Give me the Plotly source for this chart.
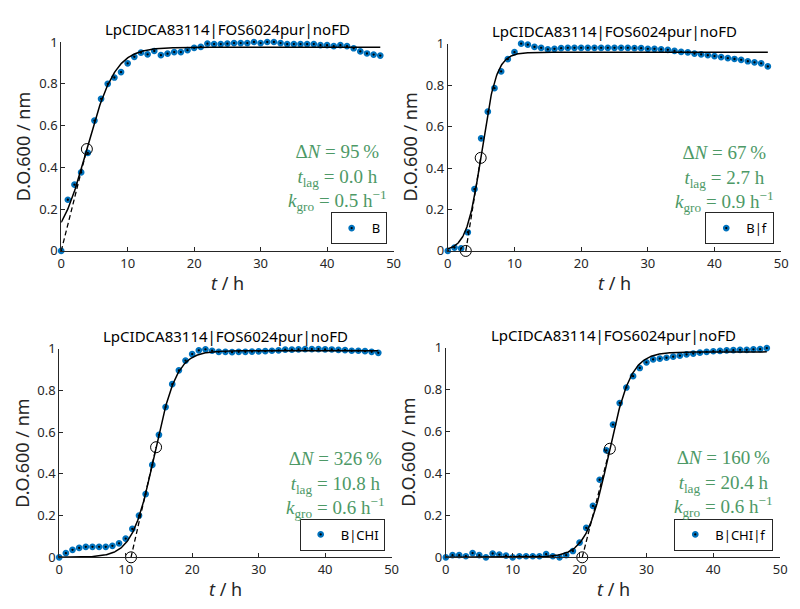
import numpy as np
import plotly.graph_objects as go

W, H = 800, 609

# ---- measured growth curves (optical density at 600 nm, hourly readings) ----
t_hours = list(range(49))

od_B = [0.0, 0.245, 0.317, 0.376, 0.469, 0.624, 0.728, 0.80, 0.83, 0.856,
        0.898, 0.929, 0.949, 0.941, 0.957, 0.937, 0.944, 0.952, 0.952, 0.961,
        0.972, 0.977, 0.992, 0.99, 0.99, 0.992, 0.995, 0.995, 0.995, 1.0,
        0.995, 1.0, 1.0, 0.995, 0.99, 0.99, 0.99, 0.99, 0.99, 0.985,
        0.985, 0.98, 0.985, 0.98, 0.97, 0.955, 0.945, 0.94, 0.935]

od_Bf = [0.0, 0.016, 0.012, 0.09, 0.298, 0.543, 0.672, 0.785, 0.866, 0.925,
         0.959, 1.0, 0.995, 0.984, 0.98, 0.972, 0.975, 0.978, 0.98, 0.98,
         0.98, 0.98, 0.98, 0.98, 0.98, 0.98, 0.98, 0.98, 0.978, 0.978,
         0.975, 0.975, 0.972, 0.97, 0.965, 0.96, 0.958, 0.952, 0.948, 0.944,
         0.94, 0.935, 0.93, 0.926, 0.922, 0.915, 0.91, 0.905, 0.89]

od_BCHI = [0.0, 0.02, 0.036, 0.045, 0.05, 0.05, 0.05, 0.05, 0.055, 0.067,
           0.09, 0.136, 0.2, 0.303, 0.443, 0.587, 0.72, 0.83, 0.896, 0.943,
           0.974, 0.992, 0.997, 0.99, 0.985, 0.985, 0.983, 0.985, 0.985, 0.986,
           0.987, 0.988, 0.99, 0.992, 0.995, 0.995, 0.997, 0.998, 0.998, 0.998,
           0.997, 0.996, 0.994, 0.993, 0.99, 0.99, 0.988, 0.985, 0.98]

od_BCHIf = [0.0, 0.01, 0.01, 0.005, 0.02, 0.01, 0.0, 0.018, 0.013, 0.008,
            0.0, 0.005, 0.005, 0.005, 0.005, 0.015, 0.005, 0.0, 0.01, 0.03,
            0.07, 0.14, 0.245, 0.37, 0.51, 0.633, 0.736, 0.81, 0.864, 0.903,
            0.93, 0.944, 0.948, 0.952, 0.957, 0.962, 0.968, 0.972, 0.976, 0.98,
            0.983, 0.985, 0.987, 0.988, 0.99, 0.99, 0.992, 0.993, 0.998]

series_labels = ["B", "B|f", "B|CHI", "B|CHI|f"]
panel_title = "LpCIDCA83114|FOS6024pur|noFD"

# ---- fitted growth parameters ----
delta_n_pct = [95, 67, 326, 160]
t_lag_h = [0.0, 2.7, 10.8, 20.4]
k_gro_per_h = [0.5, 0.9, 0.6, 0.6]

# logistic model: plateau / (1 + exp(-rate * (t - midpoint)))
fit_plateau = [0.975, 0.958, 0.99, 0.98]
fit_rate = [0.471, 0.9, 0.6, 0.6]
fit_mid = [3.86, 5.07, 14.35, 24.34]
t_inflection = [3.86, 4.93, 14.57, 24.53]

x_ticks = [0, 10, 20, 30, 40, 50]
y_ticks = [0, 0.2, 0.4, 0.6, 0.8, 1]

series = [od_B, od_Bf, od_BCHI, od_BCHIf]

# plot-area boxes in pixels: left, right, top, bottom
boxes = [(58, 395, 34, 249.3), (450, 788, 35.7, 249.3),
         (56, 393, 350, 565), (448, 787, 349, 565)]

AX = "#262626"
BLUE = "#0072BD"
GREEN = "#4D9966"
SANS = "Noto Sans"
SERIF = "Liberation Serif"


def logistic(t, a, r, m):
    return a / (1.0 + np.exp(-r * (np.asarray(t, dtype=float) - m)))


fig = go.Figure()
annotations = []
layout_axes = {}

for i in range(4):
    sfx = "" if i == 0 else str(i + 1)
    xa, ya = "x" + sfx, "y" + sfx
    leg = "legend" + sfx
    x0, x1, y0, y1 = boxes[i]

    layout_axes["xaxis" + sfx] = dict(
        domain=[x0 / W, x1 / W], anchor=ya, range=[0, 50],
        tickvals=x_ticks, ticks="inside", ticklen=4, tickwidth=1,
        tickcolor=AX, showline=True, linecolor=AX, linewidth=1,
        showgrid=False, zeroline=False,
        tickfont=dict(family=SANS, size=13, color=AX))
    layout_axes["yaxis" + sfx] = dict(
        domain=[1 - y1 / H, 1 - y0 / H], anchor=xa, range=[0, 1],
        tickvals=y_ticks, ticks="inside", ticklen=4, tickwidth=1,
        tickcolor=AX, showline=True, linecolor=AX, linewidth=1,
        showgrid=False, zeroline=False,
        tickfont=dict(family=SANS, size=13, color=AX))

    # measured points
    fig.add_trace(go.Scatter(
        x=t_hours, y=series[i], mode="markers", name=series_labels[i],
        marker=dict(size=4.5, color="black", line=dict(color=BLUE, width=2.2)),
        xaxis=xa, yaxis=ya, legend=leg, cliponaxis=False))

    # fitted curve
    a, r, m = fit_plateau[i], fit_rate[i], fit_mid[i]
    t_fit = np.linspace(0, 48, 481)
    fig.add_trace(go.Scatter(
        x=t_fit, y=logistic(t_fit, a, r, m), mode="lines",
        line=dict(color="black", width=1.5), showlegend=False,
        hoverinfo="skip", xaxis=xa, yaxis=ya))

    # tangent at the inflection point down to the lag time
    ti = t_inflection[i]
    yi = float(logistic(ti, a, r, m))
    tl = t_lag_h[i]
    fig.add_trace(go.Scatter(
        x=[tl, ti], y=[0, yi], mode="lines",
        line=dict(color="black", width=1.3, dash="5px,3px"),
        showlegend=False, hoverinfo="skip", xaxis=xa, yaxis=ya))

    cx, cy = [ti], [yi]
    if tl > 0:
        cx.append(tl)
        cy.append(0)
    fig.add_trace(go.Scatter(
        x=cx, y=cy, mode="markers",
        marker=dict(symbol="circle-open", size=11, color="black",
                    line=dict(width=1)),
        showlegend=False, hoverinfo="skip", xaxis=xa, yaxis=ya,
        cliponaxis=False))

    # legend box in the lower right corner of the panel
    layout_axes[leg] = dict(
        x=(x1 - 7) / W, y=1 - (y1 - 7) / H, xanchor="right",
        yanchor="bottom", bgcolor="white", bordercolor=AX, borderwidth=1,
        font=dict(family=SANS, size=13, color="black"),
        itemwidth=30, tracegroupgap=0)

    # panel title
    annotations.append(dict(
        text=panel_title, x=(x0 + x1) / 2 / W, y=1 - (y0 - 13) / H,
        xref="paper", yref="paper", xanchor="center", yanchor="middle",
        showarrow=False, font=dict(family=SANS, size=15, color="black")))
    # axis titles
    annotations.append(dict(
        text="<i>t</i> / h", x=(x0 + x1) / 2 / W, y=1 - (y1 + 33) / H,
        xref="paper", yref="paper", xanchor="center", yanchor="middle",
        showarrow=False, font=dict(family=SANS, size=18, color=AX)))
    annotations.append(dict(
        text="D.O.600 / nm", x=(x0 - 38) / W, y=1 - (y0 + y1) / 2 / H,
        xref="paper", yref="paper", xanchor="center", yanchor="middle",
        textangle=-90, showarrow=False,
        font=dict(family=SANS, size=18, color=AX)))
    # fit statistics
    stats = (f"Δ<i>N</i> = {delta_n_pct[i]}\u2009%<br>"
             f"<i>t</i><sub>lag</sub> = {t_lag_h[i]:.1f} h<br>"
             f"<i>k</i><sub>gro</sub> = {k_gro_per_h[i]:.1f} h<sup>−1</sup>")
    annotations.append(dict(
        text=stats, x=(x0 + 0.83 * (x1 - x0)) / W,
        y=1 - (y1 - 0.35 * (y1 - y0)) / H,
        xref="paper", yref="paper", xanchor="center", yanchor="middle",
        align="center", showarrow=False,
        font=dict(family=SERIF, size=19, color=GREEN)))

fig.update_layout(
    width=W, height=H, margin=dict(l=0, r=0, t=0, b=0),
    paper_bgcolor="white", plot_bgcolor="white",
    annotations=annotations, **layout_axes)

fig.write_html("out.html")
